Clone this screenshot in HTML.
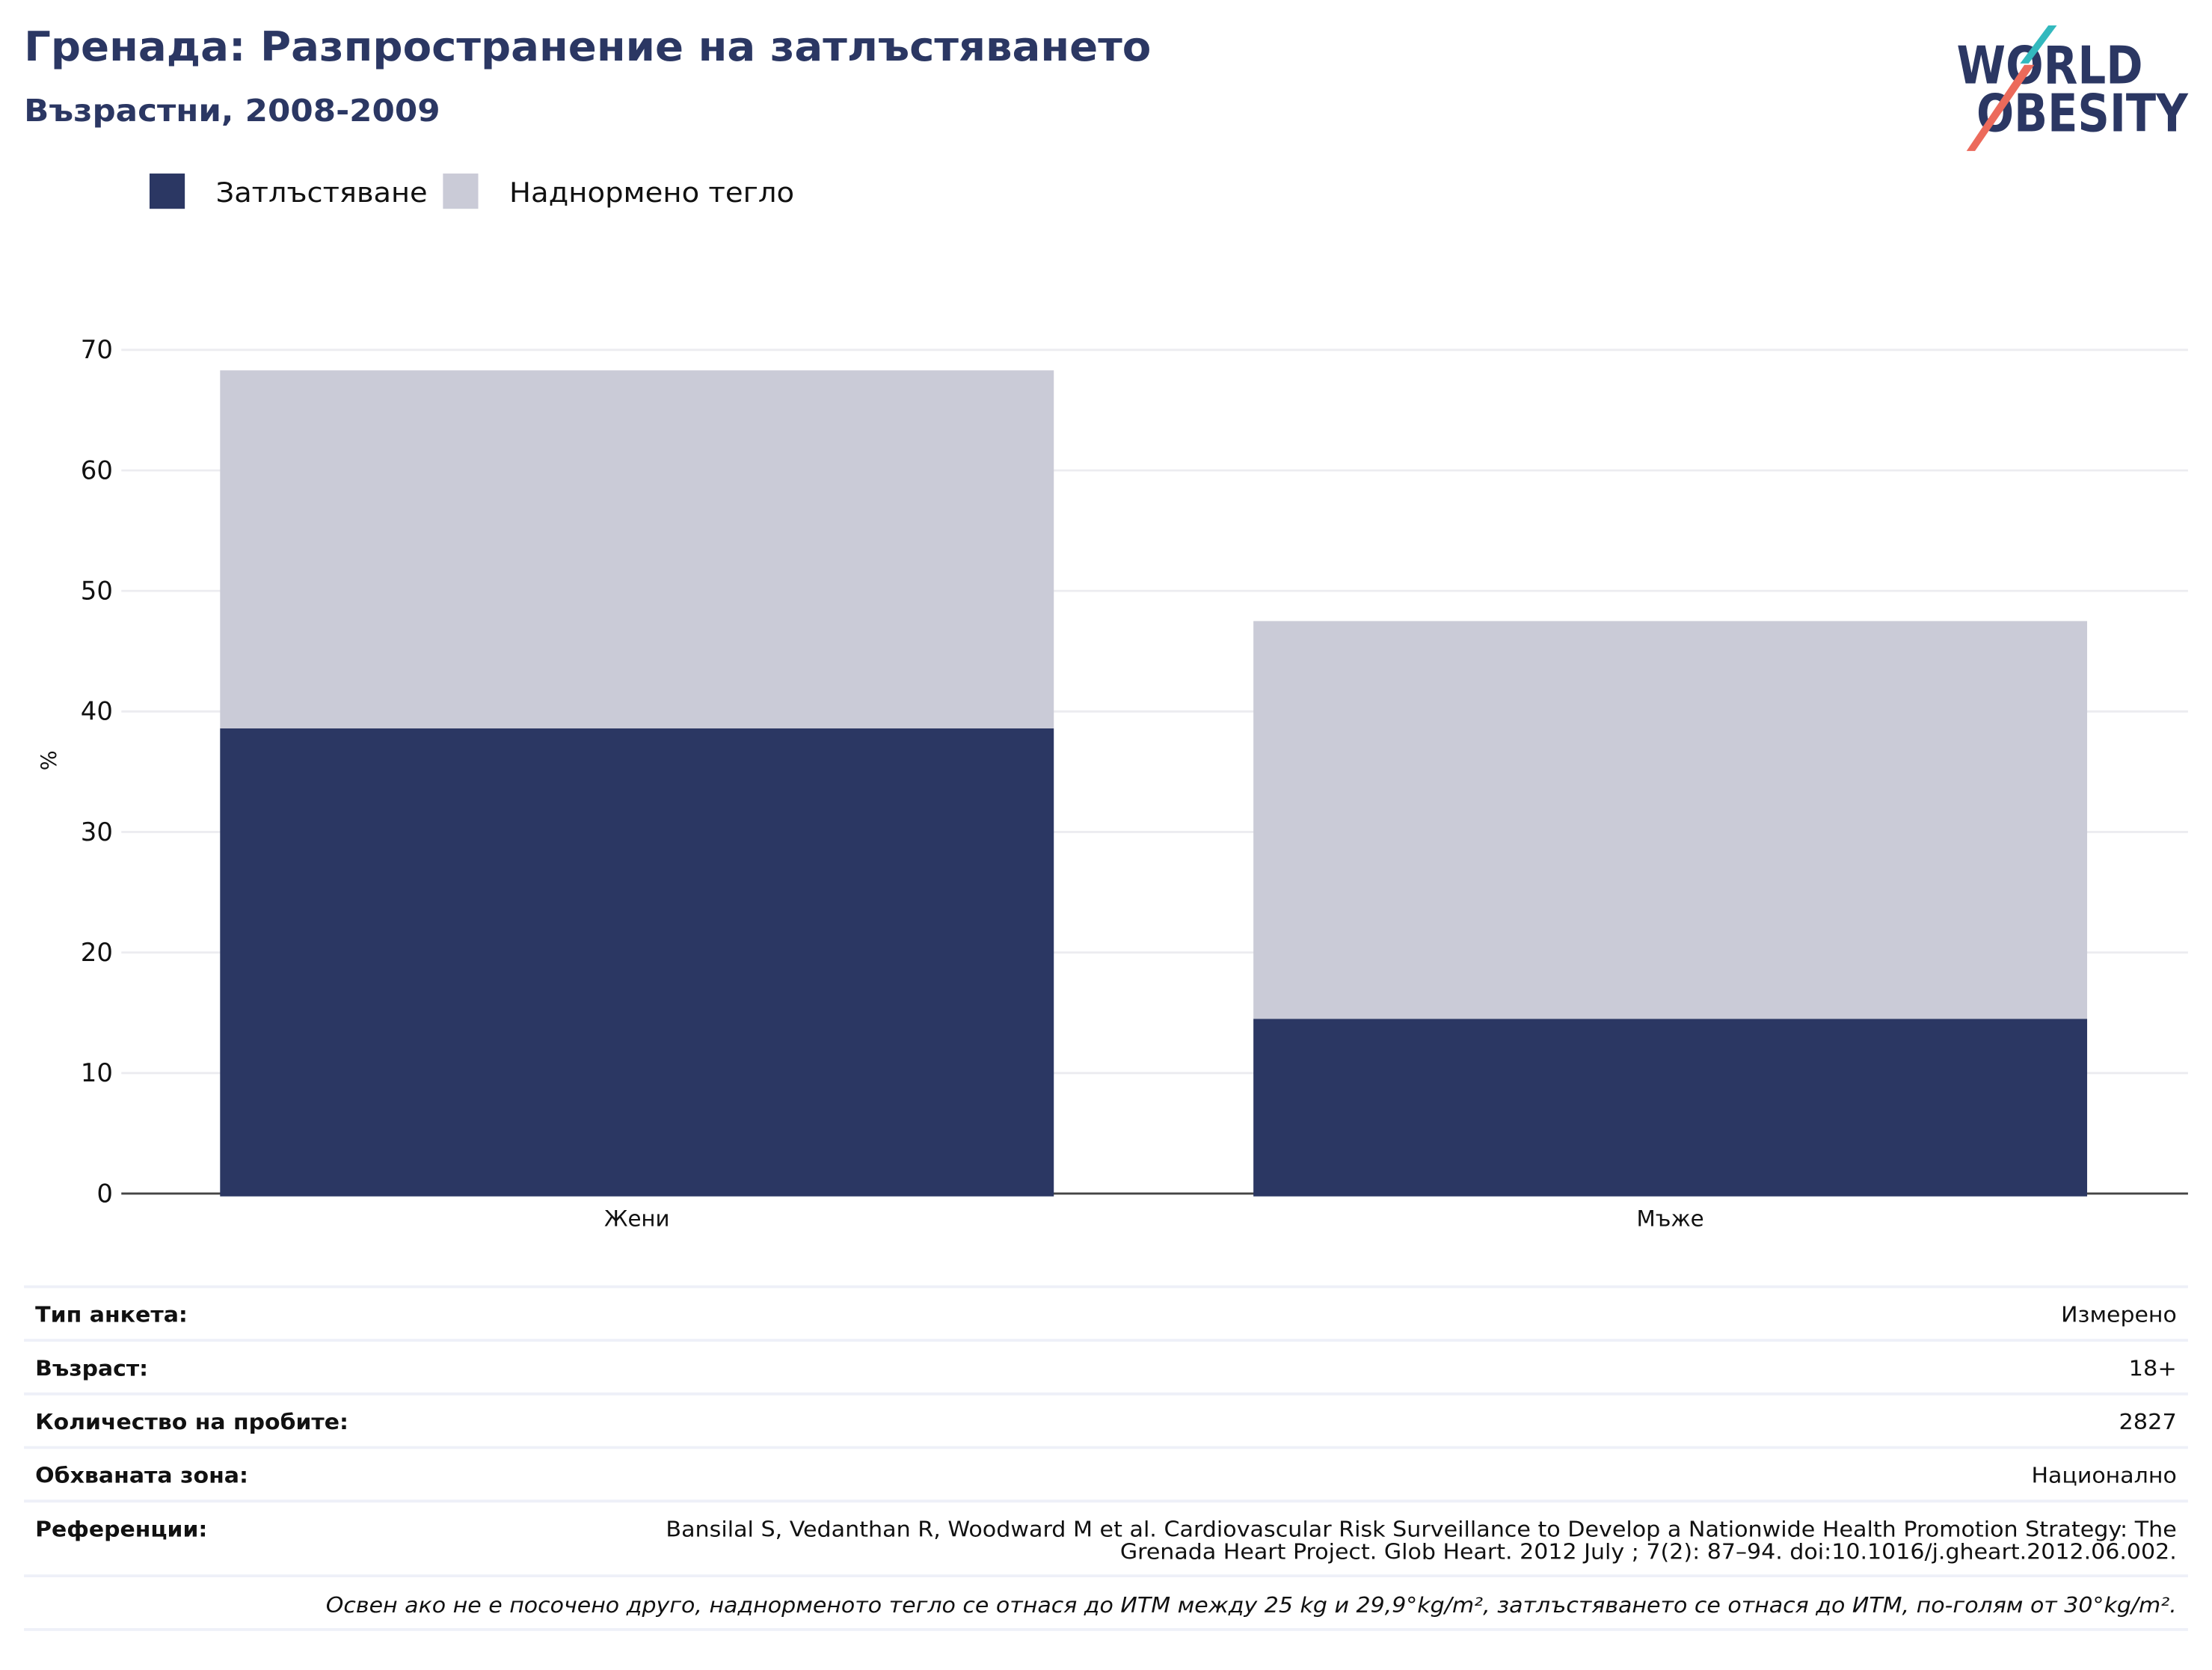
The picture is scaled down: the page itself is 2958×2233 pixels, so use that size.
<!DOCTYPE html>
<html><head><meta charset="utf-8"><style>
html,body{margin:0;padding:0;background:#fff}
svg{display:block}
text{font-family:"DejaVu Sans","Liberation Sans",sans-serif}
</style></head><body>
<svg id="chart" width="2958" height="2233" viewBox="0 0 1568 1183.7" xmlns="http://www.w3.org/2000/svg">
<text x="17" y="43" font-size="29" font-weight="bold" fill="#2b3763" textLength="799" lengthAdjust="spacingAndGlyphs">Гренада: Разпространение на затлъстяването</text>
<text x="17" y="86" font-size="21.5" font-weight="bold" fill="#2b3763" textLength="295" lengthAdjust="spacingAndGlyphs">Възрастни, 2008-2009</text>
<g>
<text x="1387" y="59" font-size="37" font-weight="bold" fill="#2b3763" textLength="132" lengthAdjust="spacingAndGlyphs">WORLD</text>
<text x="1401" y="93" font-size="37" font-weight="bold" fill="#2b3763" textLength="150" lengthAdjust="spacingAndGlyphs">OBESITY</text>
<polygon points="1452,18 1458,18 1438,45 1432,45" fill="#33b9be"/>
<polygon points="1435,46 1442,46 1400,107 1394,107" fill="#ec6a5b"/>
</g>
<g>
<rect x="106" y="123" width="25" height="25" fill="#2b3763"/>
<text x="153" y="143" font-size="19.5" fill="#111" textLength="150" lengthAdjust="spacingAndGlyphs">Затлъстяване</text>
<rect x="314" y="123" width="25" height="25" fill="#cacbd7"/>
<text x="361" y="143" font-size="19.5" fill="#111" textLength="202" lengthAdjust="spacingAndGlyphs">Наднормено тегло</text>
</g>
<g id="grid"></g>
<g id="bars"></g>
<g id="axis"></g>
<text transform="translate(40,539) rotate(-90)" text-anchor="middle" font-size="15" fill="#111">%</text>
<g font-size="15" fill="#111">
<g stroke="#eef0f8" stroke-width="2">
<line x1="17" x2="1551" y1="912" y2="912"/><line x1="17" x2="1551" y1="950" y2="950"/>
<line x1="17" x2="1551" y1="988" y2="988"/><line x1="17" x2="1551" y1="1026" y2="1026"/>
<line x1="17" x2="1551" y1="1064" y2="1064"/><line x1="17" x2="1551" y1="1117" y2="1117"/>
<line x1="17" x2="1551" y1="1155" y2="1155"/>
</g>
<text x="25" y="937" font-weight="bold" textLength="108" lengthAdjust="spacingAndGlyphs">Тип анкета:</text>
<text x="1543" y="937" text-anchor="end" textLength="82" lengthAdjust="spacingAndGlyphs">Измерено</text>
<text x="25" y="975" font-weight="bold" textLength="80" lengthAdjust="spacingAndGlyphs">Възраст:</text>
<text x="1543" y="975" text-anchor="end" textLength="34" lengthAdjust="spacingAndGlyphs">18+</text>
<text x="25" y="1013" font-weight="bold" textLength="222" lengthAdjust="spacingAndGlyphs">Количество на пробите:</text>
<text x="1543" y="1013" text-anchor="end" textLength="41" lengthAdjust="spacingAndGlyphs">2827</text>
<text x="25" y="1051" font-weight="bold" textLength="151" lengthAdjust="spacingAndGlyphs">Обхваната зона:</text>
<text x="1543" y="1051" text-anchor="end" textLength="103" lengthAdjust="spacingAndGlyphs">Национално</text>
<text x="25" y="1089" font-weight="bold" textLength="122" lengthAdjust="spacingAndGlyphs">Референции:</text>
<text x="1543" y="1089" text-anchor="end" textLength="1071" lengthAdjust="spacingAndGlyphs">Bansilal S, Vedanthan R, Woodward M et al. Cardiovascular Risk Surveillance to Develop a Nationwide Health Promotion Strategy: The</text>
<text x="1543" y="1105" text-anchor="end" textLength="749" lengthAdjust="spacingAndGlyphs">Grenada Heart Project. Glob Heart. 2012 July ; 7(2): 87–94. doi:10.1016/j.gheart.2012.06.002.</text>
<text x="1543" y="1143" text-anchor="end" font-style="italic" textLength="1312" lengthAdjust="spacingAndGlyphs">Освен ако не е посочено друго, наднорменото тегло се отнася до ИТМ между 25 kg и 29,9°kg/m², затлъстяването се отнася до ИТМ, по-голям от 30°kg/m².</text>
</g>
</svg>
<script>
const categories = ["Жени", "Мъже"];
const obesityValues = [38.6, 14.5];
const overweightValues = [29.7, 33.0];
const yTicks = [0, 10, 20, 30, 40, 50, 60, 70];
const NS = "http://www.w3.org/2000/svg";
const y0 = 846, yPer = 8.543;
function yScale(v){ return y0 - v * yPer; }
const bandLeft = 86, bandW = 732.5, barPad = 70;
function xBand(i){ return bandLeft + i * bandW + barPad; }
const barW = 591;
function mk(tag, attrs, parent){ const e=document.createElementNS(NS,tag); for(const k in attrs) e.setAttribute(k,attrs[k]); parent.appendChild(e); return e; }
const grid=document.getElementById('grid'), bars=document.getElementById('bars'), axis=document.getElementById('axis');
yTicks.forEach(t=>{
  if(t>0){ const g=mk('line',{x1:86,x2:1551,y1:yScale(t),y2:yScale(t),stroke:'#ececf0','stroke-width':1.5},grid);
  
   }
  const l=mk('text',{x:80,y:yScale(t)+6,'text-anchor':'end','font-size':18,fill:'#111'},axis);
  l.textContent=t;
  
  
});
categories.forEach((c,i)=>{
  const x=xBand(i);
  const ob=mk('rect',{x:x,y:yScale(obesityValues[i]),width:barW,height:yScale(0)-yScale(obesityValues[i])+2,fill:'#2b3763'},bars);
  
  
  const tot=obesityValues[i]+overweightValues[i];
  const ov=mk('rect',{x:x,y:yScale(tot),width:barW,height:yScale(obesityValues[i])-yScale(tot),fill:'#cacbd7'},bars);
  
  
  const lb=mk('text',{x:x+barW/2,y:869,'text-anchor':'middle','font-size':15.5,fill:'#111'},axis);
  lb.textContent=c;
  
  
});
const al=mk('line',{x1:86,x2:1551,y1:y0,y2:y0,stroke:'#444','stroke-width':1.5},grid);


</script>
</body></html>
